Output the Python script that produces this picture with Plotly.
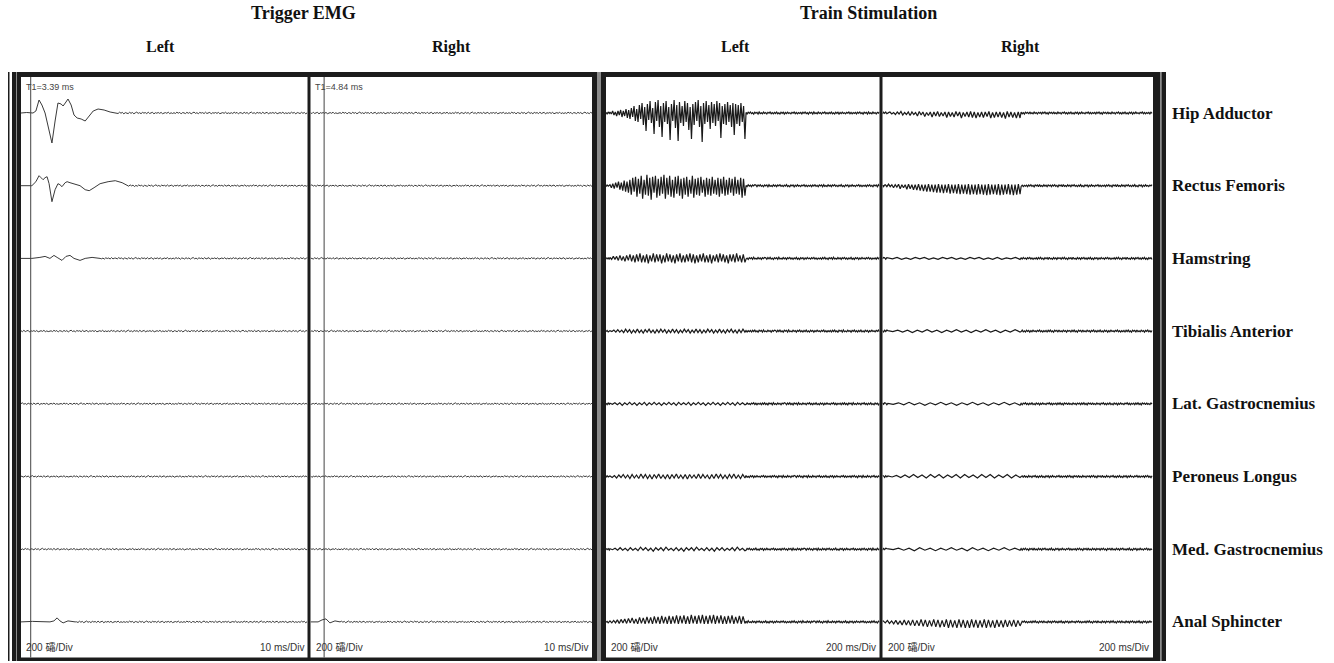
import numpy as np
import plotly.graph_objects as go

W, H = 1334, 663

# ---------------- data ----------------
MUSCLES = ["Hip Adductor", "Rectus Femoris", "Hamstring", "Tibialis Anterior",
           "Lat. Gastrocnemius", "Peroneus Longus", "Med. Gastrocnemius", "Anal Sphincter"]
CHANNEL_SPACING = 72.7          # display units between channel baselines
T1_LEFT, T1_RIGHT = 3.39, 4.84  # ms, trigger EMG onset cursors
TRIG_RANGE = [0, 100]           # ms (10 ms/Div)
TRAIN_RANGE = [0, 2000]         # ms (200 ms/Div)

# hand-read baseline jitter (display units)
NOISE_TRIG = [0.3, -0.5, 0.8, -0.2, 0.6, -0.9, 0.4, 0.1, -0.6, 0.7, -0.3, 0.5, -0.8, 0.2,
              0.9, -0.4, 0.3, -0.7, 0.6, -0.1, 0.4, -0.6, 0.8, -0.5, 0.2, 0.7, -0.9, 0.3,
              -0.2, 0.5, -0.4, 0.6, -0.7, 0.1, 0.4, -0.3, 0.8, -0.6, 0.2, -0.5]
NOISE_TRAIN = [0.6, -0.9, 0.8, -0.4, 1.0, -0.7, 0.3, -1.1, 0.8, -0.2, 0.7, -1.0, 1.1, -0.6,
               0.2, -0.8, 0.9, -0.4, 0.5, -1.0, 0.7, -0.2, 1.0, -0.7, 0.4, -0.9, 0.6, -0.5,
               1.0, -0.8, 0.2, -1.0, 0.8, -0.3, 0.7, -1.1, 0.5, -0.6, 0.9, -0.4, 0.3, -0.8,
               0.7, -0.2, 1.0, -0.7, 0.5, -0.9, 0.4, -0.5]

# Trigger EMG waveforms (time ms, value)
TRIG_LEFT = {
    "Hip Adductor": ([0, 2, 4.2, 5.2, 6.3, 7.3, 8.4, 9.8, 10.8, 11.9, 12.9, 14.0, 14.7, 15.7, 16.4,
                      17.5, 18.5, 19.6, 21.0, 22.4, 23.8, 25.2, 26.9, 29.0, 31.1, 32.9],
                     [0, 0.5, 0, 2, 13, 8, 0, -18, -30, -8, 10, 9, 7, 11, 14,
                      8, -2, -5, -6, -8, -3, 2, 4, 3, 1, 0]),
    "Rectus Femoris": ([0, 3.8, 5.2, 6.3, 7.0, 7.7, 8.4, 9.1, 9.8, 10.8, 11.9, 12.9, 13.6, 14.3,
                        15.4, 16.1, 17.1, 18.5, 20.6, 22.4, 23.8, 25.5, 27.6, 30.4, 32.9, 35.3, 37.1],
                       [0, 0, 4, 10, 8, 6, 8, 9, 2, -16, -4, 2, 1, -1,
                        3, 4, 3, 2, 0, -4, -5, -2, 2, 4, 5, 3, 0]),
    "Hamstring": ([0, 3.8, 6.6, 8.4, 10.1, 11.5, 12.6, 14.3, 15.7, 17.1, 18.5, 20.6, 22.4, 24.8, 27.6],
                  [0, 0, 1, 2, 0, 3, 1, -2, 2, 3, 0, -2, 0, 1, 0]),
    "Anal Sphincter": ([0, 4, 10.1, 11.5, 12.6, 13.6, 14.7, 16.4, 18.9],
                       [0, 0.5, 0, 1, 4, 1, -1, 1, 0]),
}
TRIG_RIGHT = {
    "Anal Sphincter": ([0, 2.7, 4.1, 5.5, 6.9, 8.7, 10.5],
                       [0, 0, 2, 3, -1, 1, 0]),
}

# Train stimulation bursts: (start ms, end ms, values)
TRAIN_LEFT = {
    "Hip Adductor": (29, 1016, [1, -1, 2, -2, 1, -3, 2, -2, 3, -4, 2, -3, 4, -5, 3, -6, 5, -4, 7, -8,
                                4, -9, 8, -6, 10, -12, 6, -18, 9, -7, 12, -10, 5, -21, 11, -8, 13,
                                -14, 7, -24, 10, -9, 12, -11, 6, -27, 9, -8, 13, -15, 8, -28, 11, -10,
                                7, -13, 12, -9, 10, -17, 6, -26, 9, -12, 11, -8, 13, -14, 7, -29, 10,
                                -11, 12, -9, 8, -16, 11, -10, 9, -13, 12, -8, 10, -25, 7, -11, 9, -12,
                                11, -9, 8, -14, 10, -22, 9, -11, 8, -13, 10, -9, 7, -26]),
    "Rectus Femoris": (29, 1016, [1, -2, 2, -3, 3, -2, 4, -4, 3, -5, 5, -6, 4, -7, 6, -9, 8, -6, 9,
                                  -11, 7, -8, 10, -13, 6, -9, 11, -10, 8, -14, 9, -7, 10, -12, 7, -10,
                                  9, -8, 11, -13, 8, -9, 10, -11, 6, -12, 9, -8, 10, -10, 7, -13, 8,
                                  -9, 9, -11, 6, -8, 10, -12, 7, -9, 8, -10, 9, -7, 6, -11, 8, -9, 7,
                                  -10, 9, -8, 6, -9, 8, -11, 7, -8, 9, -10, 6, -9, 8, -7, 7, -10, 9,
                                  -8, 6, -9, 8, -12, 7, -10]),
    "Hamstring": (29, 1016, [1, -1, 2, -1, 2, -2, 3, -2, 2, -3, 3, -2, 4, -3, 3, -4, 4, -3, 5, -4, 3,
                             -4, 4, -5, 3, -3, 5, -4, 4, -3, 4, -5, 3, -4, 5, -3, 4, -4, 3, -5, 4,
                             -3, 5, -4, 3, -4, 4, -3, 5, -4, 4, -5, 3, -4, 4, -3, 5, -4, 3, -4, 4,
                             -5, 3, -3, 4, -4, 5, -3, 4, -4, 3, -5, 4, -3, 4, -4, 5, -3, 3, -4, 4, -4]),
    "Tibialis Anterior": (29, 1016, [0.5, -0.5, 1, -1, 1.5, -1, 1, -1.5, 2, -1, 1.5, -2, 1, -1.5,
                                     2, -1.5, 1, -2, 1.5, -1, 2, -1.5, 1, -2, 1.5, -1.5, 2, -1,
                                     1.5, -2, 1, -1.5, 2, -1.5, 1.5, -2, 1, -1.5, 2, -1, 1.5, -2,
                                     1, -1.5, 2, -1.5, 1.5, -2, 1, -1.5, 2, -1, 1.5, -2, 1, -1.5,
                                     2, -1.5, 1, -2, 1.5, -1, 2, -1.5, 1, -2, 1.5, -1.5, 2, -1]),
    "Lat. Gastrocnemius": (29, 1016, [0.5, -0.5, 1, -1, 1, -1.5, 1, -1, 1.5, -1, 1, -1.5, 1, -1,
                                      1.5, -1.5, 1, -1, 1.5, -1, 1, -1.5, 1, -1, 1.5, -1, 1, -1.5,
                                      1.5, -1, 1, -1, 1.5, -1.5, 1, -1, 1.5, -1, 1, -1.5, 1, -1,
                                      1.5, -1, 1, -1.5, 1, -1, 1.5, -1, 1, -1.5, 1.5, -1, 1, -1]),
    "Peroneus Longus": (29, 1016, [0.5, -1, 1, -1.5, 1.5, -1, 2, -1.5, 1.5, -2, 2, -1.5, 1.5, -2,
                                   2.5, -1.5, 2, -2, 1.5, -2.5, 2, -1.5, 2.5, -2, 1.5, -2, 2, -2.5,
                                   2, -1.5, 2.5, -2, 1.5, -2, 2, -2.5, 2, -1.5, 1.5, -2, 2.5, -2,
                                   2, -1.5, 1.5, -2.5, 2, -2, 2.5, -1.5, 2, -2, 1.5, -2, 2, -1.5,
                                   2.5, -2, 1.5, -2, 2, -1.5]),
    "Med. Gastrocnemius": (29, 1016, [0.5, -0.5, 1, -1, 1.5, -1, 1, -1.5, 1.5, -1, 1, -1.5, 2, -1,
                                      1.5, -1.5, 1, -2, 1.5, -1, 1.5, -1.5, 2, -1, 1, -1.5, 1.5,
                                      -1.5, 1, -2, 1.5, -1, 1.5, -1.5, 2, -1, 1, -1.5, 1.5, -1.5,
                                      1, -2, 1.5, -1, 1.5, -1.5, 1, -1, 1.5, -1.5, 2, -1, 1, -1.5]),
    "Anal Sphincter": (29, 1016, [1, -1, 1.5, -1, 2, -1.5, 2.5, -1, 3, -1.5, 3.5, -1, 4, -1.5, 3,
                                  -2, 4.5, -1.5, 4, -2, 5, -1.5, 4.5, -2, 5.5, -1.5, 5, -2, 6, -1.5,
                                  5, -2, 6, -2, 5.5, -1.5, 6.5, -2, 6, -1.5, 6.5, -2, 5.5, -2, 7,
                                  -1.5, 6, -2, 6.5, -1.5, 7, -2, 6, -2, 6.5, -1.5, 7, -2, 6, -1.5,
                                  6.5, -2, 5.5, -2, 6, -1.5, 6.5, -2, 5, -1.5, 6, -2, 5.5, -1.5]),
}
TRAIN_RIGHT = {
    "Hip Adductor": (55, 1017, [1, -1, 0.5, -1.5, 1, -1, 1.5, -2, 0.5, -1.5, 1, -2.5, 1, -1.5, 0.5,
                                -3, 1.5, -2, 1, -3.5, 0.5, -2.5, 1, -4, 1, -3, 1.5, -3.5, 0.5,
                                -3, 1, -4.5, 1, -3.5, 0.5, -4, 1.5, -3, 1, -5, 0.5, -3.5, 1, -4,
                                1.5, -4.5, 1, -5, 0.5, -4, 1, -4.5, 1, -3.5, 1.5, -5, 0.5, -4.5,
                                1, -4, 1, -4.5, 0.5, -5.5, 1.5, -4, 1, -4.5, 0.5, -5, 1, -5]),
    "Rectus Femoris": (20, 1017, [1, -1, 1.5, -1, 1, -2, 1, -1.5, 1.5, -3, 1, -2, 1, -3.5, 1.5, -3,
                                  1, -4, 1, -4.5, 1.5, -5, 1, -5.5, 1, -6, 1.5, -6, 1, -6.5, 1,
                                  -7, 1.5, -7, 1, -7.5, 1, -7, 1.5, -8, 1, -7.5, 1, -8, 1.5, -8.5,
                                  1, -8, 1, -8.5, 1.5, -9, 1, -8.5, 1, -9, 1.5, -8.5, 1, -9, 1,
                                  -9.5, 1.5, -9, 1, -8.5, 1, -9, 1.5, -9.5, 1, -9, 1, -8.5, 1.5,
                                  -9, 1, -9.5, 1, -9, 1.5, -8.5]),
    "Hamstring": (40, 1017, [0.5, -0.5, 1, -1, 0.5, -1, 1, -0.5, 1, -1, 0.5, -1, 1, -0.5, 1, -1,
                             0.5, -1, 1, -0.5, 1, -1, 0.5, -1, 1, -1, 0.5, -0.5, 1, -1]),
    "Tibialis Anterior": (40, 1017, [0.5, -0.5, 1, -1, 1, -1.5, 1, -1, 1.5, -1, 1, -1.5, 1, -1,
                                     1.5, -1, 1, -1.5, 1, -1, 1.5, -1, 1, -1.5, 1, -1, 1.5, -1]),
    "Lat. Gastrocnemius": (40, 1017, [0.5, -0.5, 1, -1, 1.5, -1, 1, -1.5, 1, -1, 1.5, -1, 1, -1.5,
                                      1, -1, 1.5, -1, 1, -1.5, 1, -1, 1.5, -1, 1, -1.5]),
    "Peroneus Longus": (40, 1017, [0.5, -0.5, 1, -1, 1.5, -1, 2, -1, 1.5, -1.5, 2, -1, 2, -1.5,
                                   1.5, -1, 2, -1.5, 2, -1, 1.5, -1.5, 2, -1, 2, -1.5, 1.5, -1,
                                   2, -1.5, 1.5, -1]),
    "Med. Gastrocnemius": (40, 1017, [0.5, -0.5, 1, -1, 1, -1.5, 1.5, -1, 1, -1.5, 1, -1, 1.5, -1,
                                      1, -1.5, 1.5, -1, 1, -1.5, 1, -1, 1.5, -1, 1, -1]),
    "Anal Sphincter": (5, 1017, [1, -1, 1.5, -1.5, 1, -2, 1.5, -2.5, 1, -3, 2, -3, 1.5, -3.5, 2, -4,
                                 1.5, -4, 2.5, -4.5, 2, -5, 1.5, -4.5, 2.5, -5, 2, -5.5, 1.5, -5,
                                 2.5, -6, 2, -5.5, 1.5, -6, 2.5, -5.5, 2, -6, 1.5, -6, 2.5, -5.5,
                                 2, -6, 1.5, -5.5, 2.5, -6, 2, -5.5, 1.5, -6, 2, -5, 1.5, -5.5,
                                 2, -5, 1.5, -4.5, 2, -5, 1.5, -4]),
}

# ---------------- layout helpers ----------------
def fx(px):
    return px / W

def fy(py):
    return 1 - py / H

PANELS = [  # (left px, right px, x range)
    (21, 307.5, TRIG_RANGE),
    (310.5, 592, TRIG_RANGE),
    (606, 879.5, TRAIN_RANGE),
    (882.5, 1153, TRAIN_RANGE),
]
PANEL_TOP, PANEL_BOT = 77, 657.5
BASE_PX = 113
Y_RANGE = [BASE_PX - PANEL_BOT, BASE_PX - PANEL_TOP]

fig = go.Figure()

def trig_series(key, k):
    if key is None:
        t = np.arange(0, 100.3, 0.5)
        v = np.roll(np.resize(NOISE_TRIG, len(t)), 7 * k)
        return t, v
    tt, vv = key
    tail = np.arange(tt[-1] + 0.5, 100.3, 0.5)
    nv = np.roll(np.resize(NOISE_TRIG, len(tail)), 5 * k)
    return np.concatenate([tt, tail]), np.concatenate([vv, nv])

def train_series(burst, k):
    t0, t1, vals = burst
    pre = np.arange(0, t0, 8.0)
    mid = np.linspace(t0, t1, len(vals))
    post = np.arange(t1 + 8, 2001, 8.0)
    nb = np.roll(np.resize(NOISE_TRAIN, len(pre)), 3 * k)
    na = np.roll(np.resize(NOISE_TRAIN, len(post)), 9 * k)
    return np.concatenate([pre, mid, post]), np.concatenate([nb, vals, na])

for p in range(4):
    ax = "" if p == 0 else str(p + 1)
    for k, m in enumerate(MUSCLES):
        if p == 0:
            t, v = trig_series(TRIG_LEFT.get(m), k)
            col, lw = "#3a3a3a", 1
        elif p == 1:
            t, v = trig_series(TRIG_RIGHT.get(m), k + 3)
            col, lw = "#3a3a3a", 1
        elif p == 2:
            t, v = train_series(TRAIN_LEFT[m], k)
            col, lw = "#1a1a1a", 1.2
        else:
            t, v = train_series(TRAIN_RIGHT[m], k + 2)
            col, lw = "#1a1a1a", 1.2
        fig.add_trace(go.Scatter(x=t, y=np.asarray(v, float) - k * CHANNEL_SPACING,
                                 mode="lines", line=dict(color=col, width=lw),
                                 xaxis="x" + ax, yaxis="y" + ax, showlegend=False,
                                 hoverinfo="skip"))

layout = dict(width=W, height=H, margin=dict(l=0, r=0, t=0, b=0),
              paper_bgcolor="white", plot_bgcolor="rgba(0,0,0,0)", showlegend=False)
for p, (l, r, rng) in enumerate(PANELS):
    ax = "" if p == 0 else str(p + 1)
    layout["xaxis" + ax] = dict(domain=[fx(l), fx(r)], range=rng, visible=False,
                                anchor="y" + ax, fixedrange=True)
    layout["yaxis" + ax] = dict(domain=[fy(PANEL_BOT), fy(PANEL_TOP)], range=Y_RANGE,
                                visible=False, anchor="x" + ax, fixedrange=True)
fig.update_layout(**layout)

# ---------------- frames ----------------
DARK, GREY = "#1c1c1c", "#8c8c8c"
def rect(x0, x1, y0, y1, color, layer="below"):
    fig.add_shape(type="rect", xref="paper", yref="paper", x0=fx(x0), x1=fx(x1),
                  y0=fy(y1), y1=fy(y0), fillcolor=color, line=dict(width=0), layer=layer)

rect(8, 9.5, 72, 661, DARK)
rect(12, 597, 72, 661, DARK)
rect(16, 17, 72, 661, GREY)
rect(597, 601, 72, 661, GREY)
rect(601, 1160, 72, 661, DARK)
rect(1160, 1161.5, 72, 661, GREY)
rect(1161.5, 1166, 72, 661, DARK)
for (l, r, _) in PANELS:
    rect(l, r, PANEL_TOP, PANEL_BOT, "white")

# cursors
for ax, t1 in (("x", T1_LEFT), ("x2", T1_RIGHT)):
    yd = "y domain" if ax == "x" else "y2 domain"
    fig.add_shape(type="line", xref=ax, yref=yd, x0=t1, x1=t1, y0=0, y1=1,
                  line=dict(color="#444444", width=1), layer="above")

# ---------------- text ----------------
SERIF = "Liberation Serif, Times New Roman, serif"
SANS = "Liberation Sans, Arial, Noto Sans CJK SC, sans-serif"

def text(px, py, s, size, family, color="#111", xanchor="center"):
    fig.add_annotation(x=fx(px), y=fy(py), xref="paper", yref="paper", text=s,
                       showarrow=False, xanchor=xanchor, yanchor="middle",
                       font=dict(size=size, family=family, color=color))

text(303, 13, "<b>Trigger EMG</b>", 18, SERIF)
text(868, 13, "<b>Train Stimulation</b>", 18, SERIF)
for px, s in ((160, "Left"), (452, "Right"), (735, "Left"), (1020, "Right")):
    text(px, 47, "<b>" + s + "</b>", 16, SERIF)
for k, m in enumerate(MUSCLES):
    text(1170, BASE_PX + k * CHANNEL_SPACING, "<b>" + m + "</b>", 17, SERIF, xanchor="left")

text(24, 87, "T1=%.2f ms" % T1_LEFT, 9, SANS, "#444", "left")
text(313, 87, "T1=%.2f ms" % T1_RIGHT, 9, SANS, "#444", "left")
for l, r, unit in ((21, 307.5, "10 ms/Div"), (310.5, 592, "10 ms/Div"),
                   (606, 879.5, "200 ms/Div"), (882.5, 1153, "200 ms/Div")):
    text(l + 3, 647, "200 礵/Div", 10, SANS, "#333", "left")
    text(r - 2, 647, unit, 10, SANS, "#333", "right")

fig.write_html("out.html", config={"displayModeBar": False},
               post_script="document.body.style.margin='0px';document.body.style.overflow='hidden';")
